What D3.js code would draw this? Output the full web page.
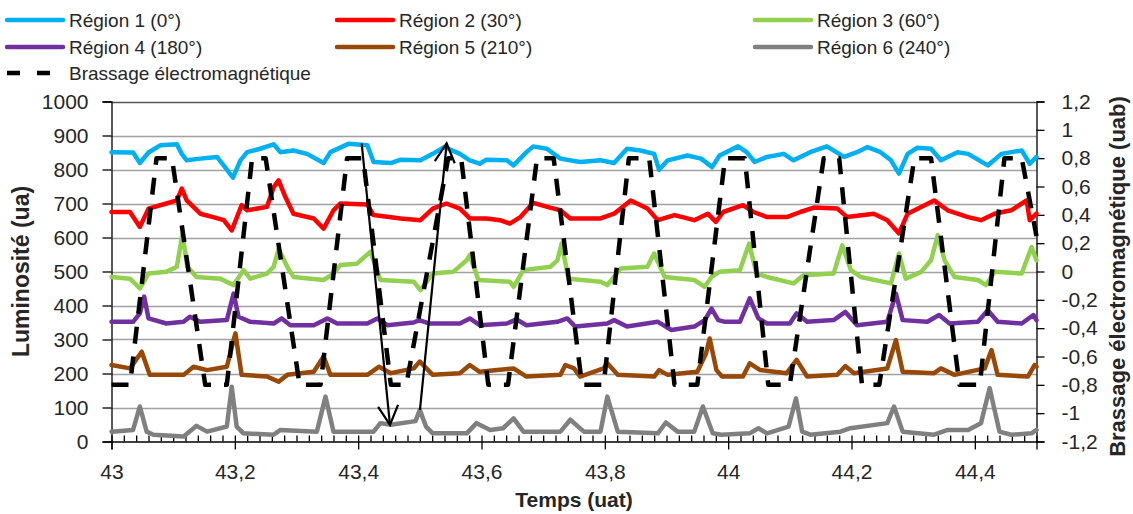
<!DOCTYPE html>
<html><head><meta charset="utf-8">
<script src="https://cdnjs.cloudflare.com/ajax/libs/d3/7.8.5/d3.min.js"></script>
<style>body{margin:0;background:#fff}svg{display:block}text{font-family:"Liberation Sans",Arial,sans-serif}</style>
</head><body><svg id="c" width="1133" height="514"></svg>
<script>
// ---- data (time in uat, luminosity in ua) ----
const seriesNames = ["Région 1 (0°)","Région 2 (30°)","Région 3 (60°)","Région 4 (180°)","Région 5 (210°)","Région 6 (240°)"];
const seriesColors = ["#00B0F0","#FF0000","#92D050","#7030A0","#984807","#808080"];
const region1 = [[43.000,851],[43.035,850],[43.046,819],[43.060,850],[43.079,871],[43.106,874],[43.114,846],[43.122,827],[43.144,832],[43.171,837],[43.184,807],[43.197,776],[43.209,827],[43.220,851],[43.241,861],[43.263,874],[43.274,851],[43.295,856],[43.317,846],[43.344,819],[43.355,851],[43.385,876],[43.415,871],[43.425,822],[43.453,819],[43.469,829],[43.501,827],[43.521,846],[43.540,866],[43.565,846],[43.581,827],[43.597,817],[43.608,829],[43.641,827],[43.652,812],[43.673,851],[43.684,868],[43.706,861],[43.728,832],[43.760,822],[43.793,827],[43.815,819],[43.836,861],[43.858,856],[43.880,846],[43.888,799],[43.902,827],[43.934,841],[43.956,832],[43.974,807],[43.986,841],[44.016,868],[44.030,851],[44.043,822],[44.063,837],[44.090,846],[44.106,827],[44.133,851],[44.160,868],[44.188,837],[44.209,851],[44.226,866],[44.247,851],[44.264,827],[44.277,788],[44.291,846],[44.307,864],[44.329,861],[44.345,827],[44.372,851],[44.389,846],[44.421,812],[44.443,846],[44.476,856],[44.489,817],[44.500,837]];
const region2 = [[43.000,675],[43.030,675],[43.046,631],[43.060,685],[43.089,700],[43.106,709],[43.114,744],[43.122,709],[43.144,670],[43.165,660],[43.182,651],[43.195,621],[43.211,695],[43.220,680],[43.252,690],[43.263,748],[43.271,768],[43.282,719],[43.295,670],[43.328,656],[43.344,626],[43.360,680],[43.371,700],[43.415,697],[43.425,666],[43.469,656],[43.501,651],[43.521,685],[43.543,700],[43.565,685],[43.581,656],[43.608,656],[43.630,651],[43.646,641],[43.663,660],[43.684,702],[43.711,688],[43.728,680],[43.744,656],[43.793,656],[43.815,670],[43.842,709],[43.869,685],[43.886,651],[43.913,666],[43.945,651],[43.967,670],[43.980,646],[43.992,675],[44.024,695],[44.041,675],[44.063,660],[44.095,660],[44.117,675],[44.139,688],[44.177,685],[44.193,660],[44.236,670],[44.258,651],[44.277,612],[44.291,670],[44.334,709],[44.356,680],[44.389,660],[44.410,651],[44.432,670],[44.459,680],[44.484,709],[44.489,651],[44.500,670]];
const region3 = [[43.000,484],[43.030,479],[43.046,450],[43.060,494],[43.089,499],[43.106,514],[43.115,611],[43.123,514],[43.138,484],[43.176,479],[43.198,460],[43.214,504],[43.225,479],[43.252,494],[43.263,514],[43.271,567],[43.285,514],[43.295,484],[43.344,475],[43.360,494],[43.371,519],[43.398,523],[43.420,558],[43.436,475],[43.490,470],[43.501,445],[43.521,494],[43.554,499],[43.576,533],[43.581,548],[43.595,475],[43.646,470],[43.652,455],[43.668,504],[43.712,514],[43.723,533],[43.730,582],[43.741,479],[43.793,470],[43.804,460],[43.826,509],[43.869,514],[43.880,553],[43.897,484],[43.945,475],[43.962,455],[43.973,484],[43.986,499],[44.019,504],[44.034,582],[44.046,494],[44.063,484],[44.106,465],[44.122,489],[44.171,494],[44.185,577],[44.199,504],[44.215,484],[44.264,465],[44.277,553],[44.288,479],[44.313,499],[44.329,533],[44.340,607],[44.351,533],[44.367,484],[44.405,475],[44.418,460],[44.432,499],[44.476,494],[44.492,572],[44.500,533]];
const region4 = [[43.000,352],[43.035,352],[43.046,377],[43.053,426],[43.060,362],[43.089,347],[43.117,352],[43.127,367],[43.144,352],[43.187,357],[43.198,435],[43.206,367],[43.225,352],[43.263,347],[43.276,362],[43.290,342],[43.328,342],[43.350,362],[43.366,347],[43.415,347],[43.431,362],[43.447,342],[43.490,350],[43.499,357],[43.516,347],[43.565,347],[43.581,362],[43.597,342],[43.641,347],[43.657,359],[43.673,342],[43.723,352],[43.739,362],[43.752,338],[43.804,347],[43.815,357],[43.836,338],[43.886,352],[43.908,328],[43.945,338],[43.962,357],[43.973,391],[43.984,357],[43.995,352],[44.019,352],[44.035,421],[44.049,362],[44.063,347],[44.100,347],[44.111,377],[44.128,352],[44.171,357],[44.190,381],[44.209,342],[44.258,352],[44.272,435],[44.283,357],[44.323,352],[44.342,372],[44.359,347],[44.405,352],[44.421,386],[44.437,352],[44.476,347],[44.495,372],[44.500,357]];
const region5 = [[43.000,225],[43.030,215],[43.049,264],[43.062,196],[43.117,196],[43.133,220],[43.155,210],[43.187,220],[43.198,298],[43.201,318],[43.211,196],[43.252,191],[43.271,176],[43.285,196],[43.328,205],[43.344,250],[43.355,196],[43.415,196],[43.434,220],[43.453,201],[43.490,215],[43.500,235],[43.521,196],[43.565,201],[43.581,225],[43.597,205],[43.652,215],[43.673,191],[43.728,196],[43.736,225],[43.750,215],[43.760,191],[43.798,215],[43.804,230],[43.821,196],[43.880,191],[43.888,210],[43.902,196],[43.950,205],[43.964,259],[43.970,303],[43.981,210],[43.990,191],[44.024,191],[44.035,230],[44.052,210],[44.095,201],[44.111,240],[44.128,191],[44.177,196],[44.190,222],[44.204,201],[44.258,215],[44.272,298],[44.283,205],[44.334,201],[44.345,215],[44.367,196],[44.416,215],[44.427,269],[44.437,196],[44.486,191],[44.497,225],[44.500,220]];
const region6 = [[43.000,29],[43.035,34],[43.046,103],[43.057,29],[43.068,20],[43.117,15],[43.138,46],[43.155,29],[43.187,44],[43.195,161],[43.203,44],[43.214,24],[43.263,20],[43.274,34],[43.333,29],[43.347,132],[43.360,29],[43.425,29],[43.436,54],[43.453,49],[43.493,60],[43.500,93],[43.510,44],[43.521,24],[43.576,24],[43.592,54],[43.614,34],[43.635,39],[43.652,68],[43.668,29],[43.728,29],[43.744,64],[43.766,29],[43.793,29],[43.804,132],[43.821,29],[43.886,24],[43.899,56],[43.918,29],[43.945,29],[43.959,103],[43.975,24],[43.989,20],[44.035,24],[44.049,39],[44.063,24],[44.098,44],[44.110,127],[44.120,29],[44.133,20],[44.182,29],[44.198,39],[44.258,54],[44.269,103],[44.283,29],[44.334,20],[44.356,34],[44.389,34],[44.410,54],[44.424,157],[44.440,29],[44.459,20],[44.492,24],[44.500,34]];
// Brassage électromagnétique (uab), secondary axis
const brassageName = "Brassage électromagnétique";
const brassage = [[43.000,-0.8],[43.030,-0.8],[43.073,0.8],[43.098,0.8],[43.152,-0.8],[43.187,-0.8],[43.228,0.8],[43.250,0.8],[43.305,-0.8],[43.339,-0.8],[43.382,0.8],[43.408,0.8],[43.453,-0.8],[43.478,-0.8],[43.546,0.8],[43.567,0.8],[43.611,-0.8],[43.643,-0.8],[43.690,0.8],[43.717,0.8],[43.763,-0.8],[43.798,-0.8],[43.839,0.8],[43.872,0.8],[43.913,-0.8],[43.950,-0.8],[43.995,0.8],[44.027,0.8],[44.065,-0.8],[44.100,-0.8],[44.155,0.8],[44.180,0.8],[44.217,-0.8],[44.245,-0.8],[44.302,0.8],[44.329,0.8],[44.375,-0.8],[44.408,-0.8],[44.448,0.8],[44.476,0.8],[44.500,0.25]];
// annotation arrows: [t0, lum0, t1, lum1]
const arrows = [[43.4057,877,43.4516,49],[43.5002,93,43.5435,877]];
const xMajorTicks = [43,43.2,43.4,43.6,43.8,44,44.2,44.4];
const yLeftTicks = [0,100,200,300,400,500,600,700,800,900,1000];
const yRightTicks = [-1.2,-1,-0.8,-0.6,-0.4,-0.2,0,0.2,0.4,0.6,0.8,1,1.2];
const xTitle = "Temps (uat)", yTitle = "Luminosité (ua)", y2Title = "Brassage électromagnétique (uab)";

// ---- drawing ----
const svg = d3.select("#c");
const x = d3.scaleLinear().domain([43,44.5]).range([111.5,1036.5]);
const y = d3.scaleLinear().domain([0,1000]).range([441.5,101.5]);
const y2 = d3.scaleLinear().domain([-1.2,1.2]).range([441.5,101.5]);
const fmt = d => String(+(+d).toFixed(1)).replace(".", ",");
const txtCol = "#262626";
const tickFont = 21;

// gridlines
svg.append("g").selectAll("line").data(yLeftTicks.filter(d=>d>0)).join("line")
  .attr("x1",x(43)).attr("x2",x(44.5)).attr("y1",d=>Math.round(y(d))+0.5).attr("y2",d=>Math.round(y(d))+0.5)
  .attr("stroke",d=>d===1000?"#555":"#a0a0a0").attr("stroke-width",1.3);

// left axis
const gL = svg.append("g").attr("transform",`translate(${x(43)},0)`)
  .call(d3.axisLeft(y).tickValues(yLeftTicks).tickSize(9).tickPadding(14).tickFormat(fmt));
// right axis
const gR = svg.append("g").attr("transform",`translate(${x(44.5)},0)`)
  .call(d3.axisRight(y2).tickValues(yRightTicks).tickSize(8).tickPadding(17).tickFormat(fmt));
// bottom axis
const gB = svg.append("g").attr("transform",`translate(0,${y(0)})`)
  .call(d3.axisBottom(x).tickValues(xMajorTicks).tickSize(8).tickPadding(15).tickFormat(fmt));
const minorTicks = d3.range(0,76).map(i=>+(43+i*0.02).toFixed(2));
const gM = svg.append("g").attr("transform",`translate(0,${y(0)})`)
  .call(d3.axisBottom(x).tickValues(minorTicks).tickSize(-6).tickFormat(""));
gM.select(".domain").remove();
[gL,gR,gB,gM].forEach(g=>{
  g.selectAll(".domain").attr("stroke","#000").attr("stroke-width",1.3);
  g.selectAll(".tick line").attr("stroke","#000").attr("stroke-width",1.3);
  g.selectAll("text").attr("font-size",tickFont).attr("fill",txtCol).attr("font-family","Liberation Sans, Arial, sans-serif");
});
gR.selectAll("text").attr("text-anchor","start");

// series
const line = d3.line().x(d=>x(d[0])).y(d=>y(d[1]));
const allSeries = [region1,region2,region3,region4,region5,region6];
svg.append("g").selectAll("path").data(allSeries).join("path")
  .attr("d",line).attr("fill","none").attr("stroke",(d,i)=>seriesColors[i])
  .attr("stroke-width",4.5).attr("stroke-linejoin","round").attr("stroke-linecap","round");
const line2 = d3.line().x(d=>x(d[0])).y(d=>y2(d[1]));
svg.append("path").datum(brassage).attr("d",line2).attr("fill","none").attr("stroke","#000")
  .attr("stroke-width",4.5).attr("stroke-dasharray","17,13").attr("stroke-linejoin","round");

// arrows
const defs = svg.append("defs");
defs.append("marker").attr("id","ah").attr("viewBox","-22 -12 26 24").attr("refX",0).attr("refY",0)
  .attr("markerWidth",26).attr("markerHeight",24).attr("markerUnits","userSpaceOnUse").attr("orient","auto")
  .append("path").attr("d","M-19,-10L0,0L-19,10").attr("fill","none").attr("stroke","#000").attr("stroke-width",2.2);
svg.append("g").selectAll("line").data(arrows).join("line")
  .attr("x1",d=>x(d[0])).attr("y1",d=>y(d[1])).attr("x2",d=>x(d[2])).attr("y2",d=>y(d[3]))
  .attr("stroke","#000").attr("stroke-width",2.2).attr("marker-end","url(#ah)");

// titles
svg.append("text").attr("x",(x(43)+x(44.5))/2).attr("y",507).attr("text-anchor","middle")
  .attr("font-size",21).attr("font-weight","bold").attr("fill",txtCol).text(xTitle);
svg.append("text").attr("transform",`translate(29,${(y(0)+y(1000))/2}) rotate(-90)`).attr("text-anchor","middle")
  .attr("font-size",23).attr("font-weight","bold").attr("fill",txtCol).text(yTitle);
svg.append("text").attr("transform",`translate(1125,${(y(0)+y(1000))/2+5}) rotate(-90)`).attr("text-anchor","middle")
  .attr("font-size",22).attr("font-weight","bold").attr("fill",txtCol).text(y2Title);

// legend
const legPos = [[7,20],[337,20],[755,20],[7,47],[337,47],[755,47]];
const lg = svg.append("g");
seriesNames.forEach((n,i)=>{
  const [lx,ly]=legPos[i];
  lg.append("line").attr("x1",lx).attr("x2",lx+56).attr("y1",ly).attr("y2",ly)
    .attr("stroke",seriesColors[i]).attr("stroke-width",4.5).attr("stroke-linecap","round");
  lg.append("text").attr("x",lx+62).attr("y",ly+7).attr("font-size",19).attr("fill",txtCol).text(n);
});
lg.append("line").attr("x1",7).attr("x2",51).attr("y1",73).attr("y2",73).attr("stroke","#000")
  .attr("stroke-width",4.5).attr("stroke-dasharray","13,17");
lg.append("text").attr("x",69).attr("y",80).attr("font-size",19).attr("fill",txtCol).text(brassageName);
</script></body></html>
